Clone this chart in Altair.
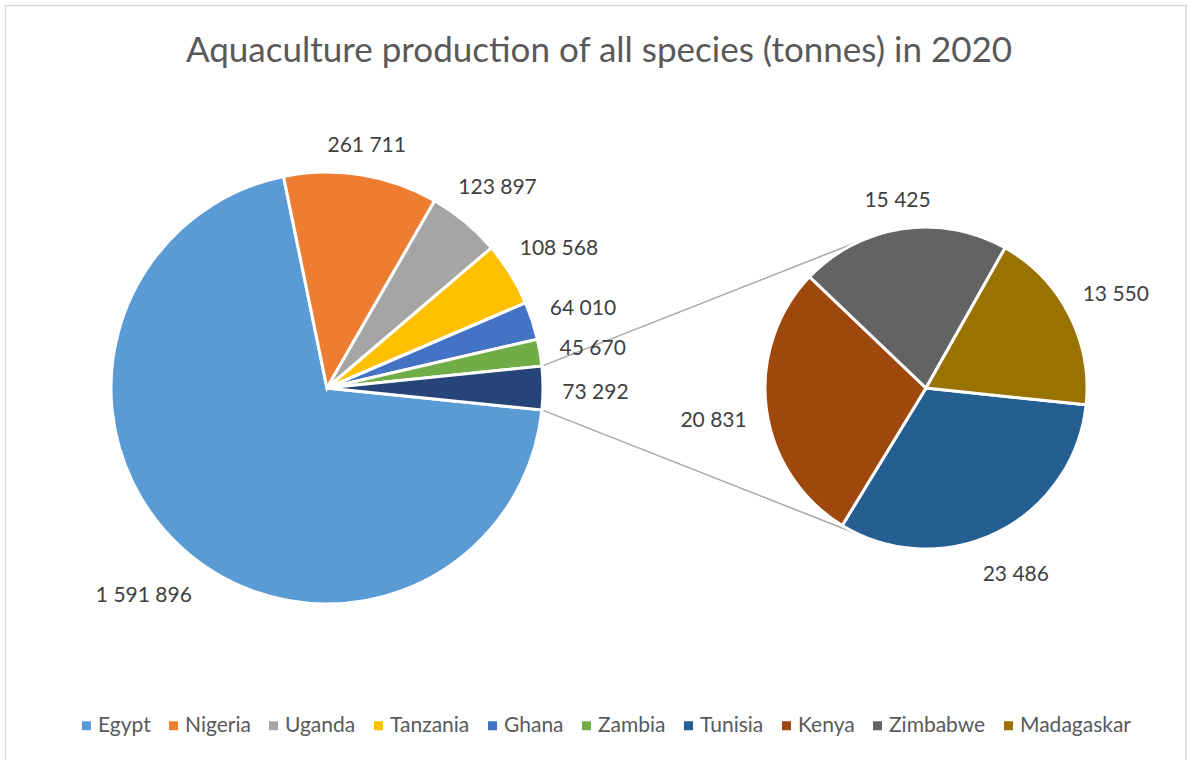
import math
import pandas as pd
import altair as alt

# ---------------- data ----------------
countries = ["Egypt", "Nigeria", "Uganda", "Tanzania", "Ghana", "Zambia",
             "Tunisia", "Kenya", "Zimbabwe", "Madagaskar"]
values = [1591896, 261711, 123897, 108568, 64010, 45670,
          23486, 20831, 15425, 13550]
colors = ["#5B9BD5", "#ED7D31", "#A5A5A5", "#FFC000", "#4472C4", "#70AD47",
          "#255E91", "#9E480E", "#636363", "#997300"]
other_name = "Other"
other_color = "#264478"
n_main = 6  # first six countries in the main pie, the rest in the secondary pie
TITLE = "Aquaculture production of all species (tonnes) in 2020"

# ---------------- layout constants ----------------
W, H = 1190, 760
C1, R1 = (327.0, 388.0), 216.0
C2, R2 = (926.0, 388.0), 161.0
GAP = 20.0
FONT = "Lato"
LABEL_SIZE = 21
SEC_START_DEG = 96.0


def fmt(v):
    return f"{v:,}".replace(",", " ")


def text_width(s, size):
    w = 0.0
    for ch in s:
        w += 0.193 if ch == " " else 0.58
    return w * size


def build(names, vals, start, R):
    total = float(sum(vals))
    rows = []
    cum = 0.0
    for i, (n, v) in enumerate(zip(names, vals)):
        mid = start + 2 * math.pi * (cum + v / 2.0) / total
        lab = fmt(v)
        w = text_width(lab, LABEL_SIZE)
        h = 16.0
        lr = R + GAP + (w / 2) * abs(math.sin(mid)) + (h / 2) * abs(math.cos(mid))
        rows.append({"name": n, "value": v, "idx": i, "label": lab,
                     "lr": lr, "mid": mid})
        cum += v
    return pd.DataFrame(rows)


main_names = countries[:n_main] + [other_name]
main_vals = values[:n_main] + [sum(values[n_main:])]
main_total = float(sum(main_vals))
a0 = math.pi / 2 + math.pi * main_vals[-1] / main_total
b0 = math.radians(SEC_START_DEG)

df1 = build(main_names, main_vals, a0, R1)
df2 = build(countries[n_main:], values[n_main:], b0, R2)

# ---------------- connector lines (tangents) ----------------
th_up = a0 + 2 * math.pi * (1 - main_vals[-1] / main_total)
th_lo = a0


def polar(C, R, th):
    return (C[0] + R * math.sin(th), C[1] - R * math.cos(th))


def tangent(P, sign):
    vx, vy = C2[0] - P[0], C2[1] - P[1]
    d = math.hypot(vx, vy)
    beta = math.asin(R2 / d)
    L = math.sqrt(d * d - R2 * R2)
    phi = sign * beta
    ux, uy = vx / d, vy / d
    dx = ux * math.cos(phi) - uy * math.sin(phi)
    dy = ux * math.sin(phi) + uy * math.cos(phi)
    return (P[0] + L * dx, P[1] + L * dy)


P_up = polar(C1, R1, th_up)
P_lo = polar(C1, R1, th_lo)
T_up = tangent(P_up, -1)
T_lo = tangent(P_lo, +1)
conn = pd.DataFrame({
    "x": [P_up[0], P_lo[0]], "y": [P_up[1], P_lo[1]],
    "x2": [T_up[0], T_lo[0]], "y2": [T_up[1], T_lo[1]],
})

# ---------------- chart ----------------
color = alt.Color(
    "name:N",
    scale=alt.Scale(domain=countries + [other_name], range=colors + [other_color]),
    legend=alt.Legend(
        orient="none", legendX=76, legendY=715, direction="horizontal",
        columns=10, title=None, values=countries, symbolType="square",
        symbolSize=81, symbolStrokeWidth=0, symbolOpacity=1,
        labelFont=FONT, labelFontSize=21, labelColor="#595959",
        labelOffset=1, columnPadding=12, padding=0, labelLimit=300,
    ),
)


def pie(df, C, R, start):
    theta = alt.Theta("value:Q", stack=True,
                      scale=alt.Scale(range=[start, start + 2 * math.pi]))
    arc = alt.Chart(df).mark_arc(outerRadius=R, stroke="white", strokeWidth=3).encode(
        theta=theta, color=color, order=alt.Order("idx:Q"),
        x=alt.value(C[0]), y=alt.value(C[1]),
    )
    txt = alt.Chart(df).mark_text(
        font=FONT, fontSize=LABEL_SIZE, color="#404040", align="center",
        baseline="middle", dy=5,
    ).encode(
        theta=alt.Theta("mid:Q", scale=None),
        radius=alt.Radius("lr:Q", scale=None), text="label:N",
        x=alt.value(C[0]), y=alt.value(C[1]),
    )
    return alt.layer(arc, txt)


border = alt.Chart(pd.DataFrame({"a": [0]})).mark_rect(
    fillOpacity=0, stroke="#D9D9D9", strokeWidth=1.5
).encode(x=alt.value(5.5), x2=alt.value(1186), y=alt.value(5.5), y2=alt.value(775))

title = alt.Chart(pd.DataFrame({"t": [TITLE]})).mark_text(
    font=FONT, fontSize=35, color="#595959", align="center", baseline="alphabetic"
).encode(x=alt.value(599), y=alt.value(62), text="t:N")

lines = alt.Chart(conn).mark_rule(color="#A6A6A6", strokeWidth=1.5).encode(
    x=alt.X("x:Q", scale=None), y=alt.Y("y:Q", scale=None),
    x2="x2:Q", y2="y2:Q",
)

chart = alt.layer(
    border, title, lines, pie(df1, C1, R1, a0), pie(df2, C2, R2, b0)
).resolve_scale(theta="independent").properties(
    width=W, height=H, padding=0, autosize="none", background="white"
).configure_view(stroke=None)

chart.save("out.html", embed_options={"renderer": "svg", "actions": False})
